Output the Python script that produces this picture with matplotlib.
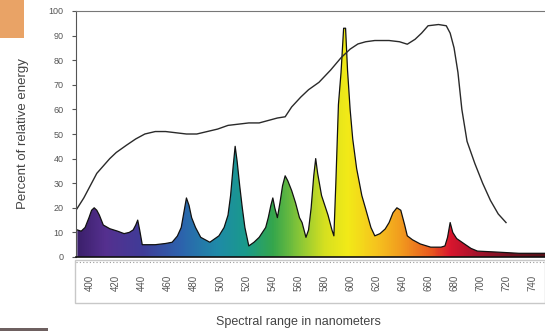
import numpy as np
import matplotlib
matplotlib.use('Agg')
import matplotlib.pyplot as plt
from matplotlib.colors import LinearSegmentedColormap
from matplotlib.patches import Polygon, Rectangle
from matplotlib.lines import Line2D

# spectral power of the lamp (coloured area)
spec_nm = [390, 393, 396, 399, 401, 403, 405, 407, 410, 415, 421, 426, 430, 433,
           435, 436.5, 438, 440, 450, 458, 463, 467, 470, 472, 474, 476, 478, 481,
           485, 492, 499, 503, 506, 508, 510, 511.5, 513, 515, 517, 519, 522, 526,
           530, 535, 537, 539, 540.5, 542, 544, 546, 548, 550, 552, 555, 558, 561,
           563, 566, 568, 570, 572, 573.5, 575, 578, 583, 586, 587.5, 589, 591, 593,
           595, 596.5, 598, 600, 602, 605, 609, 612, 616, 619, 623, 627, 630, 633,
           636, 639, 642, 644, 648, 654, 662, 670, 673, 675, 677, 679, 682, 688,
           693, 698, 713, 730, 750]
spec_val = [11, 10.5, 12, 16, 19, 20, 19, 17, 13, 11.5, 10.5, 9.5, 10, 11,
            13, 15, 11, 5, 5, 5.5, 6, 8.5, 12, 18, 24, 21, 16, 12,
            8, 6, 8.6, 12, 17, 25, 37, 45, 39, 29, 20, 12, 4.5, 6,
            8, 12, 16, 21, 24, 20, 16, 22, 29, 33, 31, 27, 22, 16,
            14, 8, 11, 20, 33, 40, 34, 25, 17, 11, 8.6, 30, 62, 75,
            93, 93, 76, 60, 48, 36, 25, 19.5, 12, 8.6, 9.5, 11.4, 14, 18,
            20, 19, 13, 8.6, 7, 5.3, 4, 4, 4.5, 8, 14, 10, 7.5, 5.3,
            3.5, 2.4, 2, 1.5, 1.5]

# reference curve (black line)
curve_nm = [389, 395, 400, 405, 410, 415, 420, 428, 435, 442, 450, 458, 466, 474,
            482, 490, 498, 506, 514, 522, 530, 537, 544, 550, 555, 562, 568, 576,
            585, 593, 600, 606, 612, 619, 630, 638, 644, 650, 655, 660, 668, 674,
            677, 680, 683, 686, 690, 696, 702, 708, 714, 720]
curve_val = [19, 24, 29, 34, 37, 40, 42.5, 45.5, 48, 50, 51, 51, 50.5, 50,
             50, 51, 52, 53.5, 54, 54.5, 54.5, 55.5, 56.5, 57, 61, 65, 68, 71,
             76, 81, 84.5, 86.6, 87.5, 88, 88, 87.5, 86.5, 88.5, 91, 94, 94.5, 94,
             91, 85, 75, 60, 47, 38, 30, 23, 17.5, 14]

x_ticks = list(range(400, 741, 20))
y_ticks = list(range(0, 101, 10))

spectrum = LinearSegmentedColormap.from_list('spectrum', [
    (0.00, '#3a1f6a'), (0.06, '#55308f'), (0.14, '#403c98'), (0.22, '#2d62ad'),
    (0.30, '#1f8aa8'), (0.36, '#1a9a8c'), (0.42, '#35a64c'), (0.48, '#8cc836'),
    (0.53, '#d6e020'), (0.58, '#f2ea18'), (0.64, '#f6c51e'), (0.70, '#f1961f'),
    (0.76, '#e8561f'), (0.80, '#d8162e'), (0.86, '#a3122c'), (0.93, '#741222'),
    (1.00, '#551018')])

plt.rcParams['font.family'] = ['Liberation Sans', 'DejaVu Sans']

fig = plt.figure(figsize=(5.45, 3.31), dpi=100)
ax = fig.add_axes([76 / 545, 74 / 331, 1 - 76 / 545, 246 / 331])
ax.set_xlim(389, 750)
ax.set_ylim(0, 100)

# gradient clipped to the spectrum shape
verts = np.column_stack([[spec_nm[0]] + spec_nm + [spec_nm[-1]],
                         [0] + spec_val + [0]])
clip = Polygon(verts, closed=True, facecolor='none', edgecolor='none',
               transform=ax.transData)
ax.add_patch(clip)
grad = np.linspace(389, 750, 500).reshape(1, -1)
im = ax.imshow(grad, extent=(389, 750, 0, 100), aspect='auto', cmap=spectrum,
               origin='lower', interpolation='bilinear', vmin=389, vmax=750)
im.set_clip_path(clip)
ax.plot(spec_nm, spec_val, color='#111111', linewidth=0.9)
ax.plot(curve_nm, curve_val, color='#2a2a2a', linewidth=1.0)

ax.set_xticks(x_ticks)
ax.set_xticklabels([str(t) for t in x_ticks], rotation=90, fontsize=7,
                   color='#555555')
ax.tick_params(axis='x', length=0, pad=13)
ax.set_yticks(y_ticks)
ax.set_yticklabels([str(t) for t in y_ticks], fontsize=6.5, color='#555555')
ax.tick_params(axis='y', length=3, width=0.8, color='#555555', pad=6)

ax.spines['right'].set_visible(False)
ax.spines['top'].set_color('#777777')
ax.spines['left'].set_color('#555555')
ax.spines['bottom'].set_color('#111111')
ax.spines['bottom'].set_linewidth(1.2)

ax.set_ylabel('Percent of relative energy', fontsize=9.5, color='#444444',
              labelpad=14)
fig.text(298 / 545, 9 / 331, 'Spectral range in nanometers', fontsize=9,
         color='#444444', ha='center', va='center')

# box round the category labels and dotted row under the axis
fig.add_artist(Rectangle((75 / 545, 28 / 331), 1 - 75 / 545, 43 / 331,
                         transform=fig.transFigure, facecolor='none',
                         edgecolor='#c8c8c8', linewidth=1.0))
fig.add_artist(Line2D([76 / 545, 1.0], [69 / 331, 69 / 331],
                      transform=fig.transFigure, color='#999999',
                      linestyle=(0, (1, 2)), linewidth=0.8))

# scraps of neighbouring page
fig.add_artist(Rectangle((0, 293 / 331), 24 / 545, 38 / 331,
                         transform=fig.transFigure, facecolor='#e9a366',
                         edgecolor='none'))
fig.add_artist(Rectangle((0, 0), 48 / 545, 3 / 331,
                         transform=fig.transFigure, facecolor='#6e6060',
                         edgecolor='none'))

fig.savefig('out.png', dpi=100)
